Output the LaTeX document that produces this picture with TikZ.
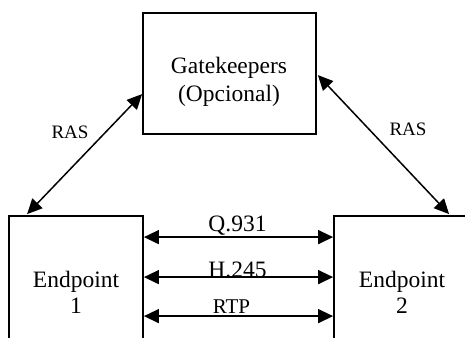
\documentclass[tikz,border=0pt]{standalone}
\usepackage{fontspec}
\setmainfont{Liberation Serif}
\usetikzlibrary{arrows.meta,calc}
\tikzset{
  box/.style={draw, line width=1.8pt, rectangle, inner sep=0pt},
  lbl/.style={inner sep=0pt, anchor=base, font=\fontsize{23.5}{27}\selectfont},
  small/.style={inner sep=0pt, anchor=base, font=\fontsize{19}{22}\selectfont},
  mid/.style={inner sep=0pt, anchor=base, font=\fontsize{21}{24}\selectfont},
  link/.style={line width=1.5pt, {Triangle[length=15pt,width=14pt]}-{Triangle[length=15pt,width=14pt]}}
}
\begin{document}
\begin{tikzpicture}[x=1pt,y=-1pt]
\useasboundingbox (0,0) rectangle (465,337);
\clip (0,0) rectangle (465,337);

% boxes
\node[box, minimum width=173pt, minimum height=121pt] (gk) at (229.5,73.5) {};
\node[box, minimum width=134pt, minimum height=150pt] (ep1) at (76,291) {};
\node[box, minimum width=150pt, minimum height=150pt] (ep2) at (409,291) {};

% box texts
\node[lbl] (gkA) at (229,73) {Gatekeepers};
\node[lbl] (gkB) at (229,101) {(Opcional)};
\node[lbl] (ep1A) at (76,287) {Endpoint};
\node[lbl] (ep1B) at (76,313) {1};
\node[lbl] (ep2A) at (402,287) {Endpoint};
\node[lbl] (ep2B) at (402,313) {2};

% RAS connectors
\coordinate (r1a) at ($(ep1.north west)+(19,-1)$);
\coordinate (r1b) at ($(gk.north west)+(0,82)$);
\draw[link] (r1a) -- (r1b);
\coordinate (r2a) at ($(ep2.north west)+(116,-1)$);
\coordinate (r2b) at ($(gk.north east)+(1,63)$);
\draw[link] (r2a) -- (r2b);
\node[small] (ras1) at (70,138) {RAS};
\node[small] (ras2) at (408,135) {RAS};

% endpoint to endpoint connectors
\draw[link] ([yshift=-22pt]ep1.north east) -- ([yshift=-22pt]ep2.north west);
\draw[link] ([yshift=-62pt]ep1.north east) -- ([yshift=-62pt]ep2.north west);
\draw[link] ([yshift=-101pt]ep1.north east) -- ([yshift=-101pt]ep2.north west);
\node[lbl] (q931) at (237.5,231) {Q.931};
\node[lbl] (h245) at (237.5,277.5) {H.245};
\node[mid] (rtp) at (231.5,313) {RTP};
\end{tikzpicture}
\end{document}
